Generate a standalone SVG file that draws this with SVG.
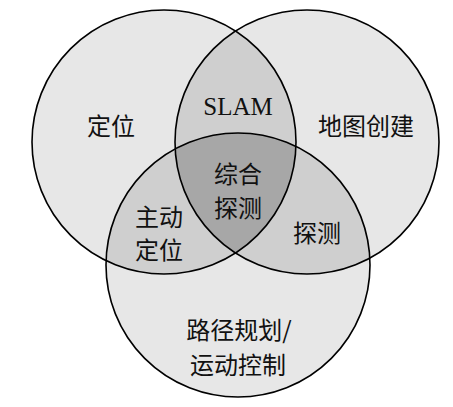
<svg xmlns="http://www.w3.org/2000/svg" width="453" height="407" viewBox="0 0 453 407">
<style>
.one{fill:#e7e7e7}
.two{fill:#cfcfcf}
.three{fill:#a7a7a7}
.edge{fill:none;stroke:#000;stroke-width:1.6}
.cjk{font-family:"Noto Sans CJK SC","Noto Sans CJK JP",sans-serif;font-size:24px;fill:#111;text-anchor:middle;dominant-baseline:central}
.lat{font-family:"Liberation Serif","Times New Roman",serif;font-size:25px;fill:#111;text-anchor:middle}
</style>
<defs>
<clipPath id="clipA"><circle cx="164" cy="142" r="132"/></clipPath>
<clipPath id="clipB"><circle cx="307" cy="142" r="132"/></clipPath>
</defs>
<rect width="453" height="407" fill="#fff"/>
<g id="regions">
<circle class="one" cx="164" cy="142" r="132"/>
<circle class="one" cx="307" cy="142" r="132"/>
<circle class="one" cx="238" cy="265" r="132"/>
<circle class="two" cx="307" cy="142" r="132" clip-path="url(#clipA)"/>
<circle class="two" cx="238" cy="265" r="132" clip-path="url(#clipA)"/>
<circle class="two" cx="238" cy="265" r="132" clip-path="url(#clipB)"/>
<g clip-path="url(#clipB)"><circle class="three" cx="238" cy="265" r="132" clip-path="url(#clipA)"/></g>
</g>
<g id="circle-positioning">
<circle class="edge" cx="164" cy="142" r="132"/>
<text class="cjk" x="111" y="124">定位</text>
</g>
<g id="circle-mapping">
<circle class="edge" cx="307" cy="142" r="132"/>
<text class="cjk" x="366" y="124">地图创建</text>
</g>
<g id="circle-planning">
<circle class="edge" cx="238" cy="265" r="132"/>
<text class="cjk" x="239" y="328">路径规划/</text>
<text class="cjk" x="238" y="363">运动控制</text>
</g>
<g id="overlap-slam">
<text class="lat" x="238" y="115">SLAM</text>
</g>
<g id="overlap-active">
<text class="cjk" x="159" y="215">主动</text>
<text class="cjk" x="159" y="248">定位</text>
</g>
<g id="overlap-exploration">
<text class="cjk" x="317" y="231">探测</text>
</g>
<g id="overlap-integrated">
<text class="cjk" x="238" y="172">综合</text>
<text class="cjk" x="238" y="206">探测</text>
</g>
</svg>
